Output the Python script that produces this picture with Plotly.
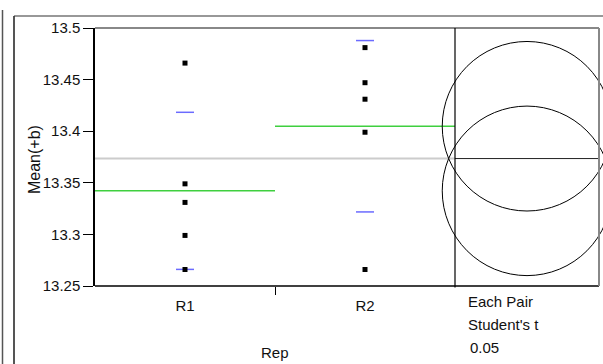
import numpy as np
import plotly.graph_objects as go

# Observations of Mean(+b) by Rep
groups = ["R1", "R2"]
r1_values = [13.466, 13.349, 13.331, 13.299, 13.266]
r2_values = [13.481, 13.447, 13.431, 13.399, 13.266]
y_ticks = [13.25, 13.3, 13.35, 13.4, 13.45, 13.5]
y_tick_text = ["13.25", "13.3", "13.35", "13.4", "13.45", "13.5"]
t_crit = 2.306          # Student's t, alpha = 0.05, df = 8
alpha_text = "0.05"

# --- figure geometry (pixels) ---
W, H = 603, 364
ML, MT, MB = 95, 28, 78
plot_w, plot_h = W - ML, H - MT - MB
px_per_x = 180.0                       # one category slot
x_max = plot_w / px_per_x
y_lo, y_hi = 13.25, 13.5
px_per_y = plot_h / (y_hi - y_lo)
panel_lo, panel_hi = 2.0, 2.8          # comparison-circle panel
centers = [0.5, 1.5]

data = [np.array(r1_values), np.array(r2_values)]
means = [d.mean() for d in data]
sds = [d.std(ddof=1) for d in data]
grand = np.concatenate(data).mean()
n = len(r1_values)
mse = sum(((d - d.mean()) ** 2).sum() for d in data) / (sum(len(d) for d in data) - len(data))
radius = t_crit * np.sqrt(mse / n)

fig = go.Figure()

# grand mean across the groups
fig.add_trace(go.Scatter(x=[0, panel_lo], y=[grand, grand], mode="lines",
                         line=dict(color="#cccccc", width=2), hoverinfo="skip"))
fig.add_trace(go.Scatter(x=[panel_lo, panel_hi], y=[grand, grand], mode="lines",
                         line=dict(color="#222222", width=1), hoverinfo="skip"))

# group means
for i, m in enumerate(means):
    fig.add_trace(go.Scatter(x=[centers[i] - 0.5, centers[i] + 0.5], y=[m, m], mode="lines",
                             line=dict(color="#3fcf3f", width=1.5), hoverinfo="skip"))

# mean +/- one standard deviation
for i, (m, s) in enumerate(zip(means, sds)):
    hx = 0.05
    fig.add_trace(go.Scatter(
        x=[centers[i] - hx, centers[i] + hx, None, centers[i] - hx, centers[i] + hx],
        y=[m + s, m + s, None, m - s, m - s], mode="lines",
        line=dict(color="#6b6bff", width=1.5), hoverinfo="skip"))

# raw observations
for i, d in enumerate(data):
    fig.add_trace(go.Scatter(x=[centers[i]] * len(d), y=d, mode="markers",
                             marker=dict(symbol="square", size=5, color="black"),
                             hoverinfo="skip"))

# comparison circles
cx = (panel_lo + panel_hi) / 2
rx = radius * px_per_y / px_per_x
for m in means:
    fig.add_shape(type="circle", xref="x", yref="y",
                  x0=cx - rx, x1=cx + rx, y0=m - radius, y1=m + radius,
                  line=dict(color="black", width=1))

# plot frame
fig.add_shape(type="line", xref="x", yref="paper", x0=0, x1=panel_hi, y0=0, y1=0,
              line=dict(color="black", width=1.5))
fig.add_shape(type="line", xref="x", yref="paper", x0=0, x1=panel_hi, y0=1, y1=1,
              line=dict(color="#888888", width=2))
fig.add_shape(type="line", xref="x", yref="paper", x0=panel_hi, x1=panel_hi, y0=0, y1=1,
              line=dict(color="#888888", width=2))
fig.add_shape(type="line", xref="x", yref="paper", x0=panel_lo, x1=panel_lo, y0=-0.006, y1=1,
              line=dict(color="black", width=1.2))

# outer report borders
def px_x(p):
    return (p - ML) / plot_w

def px_y(p):
    return (H - MB - p) / plot_h

fig.add_shape(type="line", xref="paper", yref="paper", x0=px_x(2.5), x1=px_x(2.5),
              y0=px_y(10), y1=px_y(H), line=dict(color="#555555", width=1.5))
fig.add_shape(type="line", xref="paper", yref="paper", x0=px_x(14), x1=px_x(14),
              y0=px_y(16), y1=px_y(H), line=dict(color="#555555", width=2))
fig.add_shape(type="line", xref="paper", yref="paper", x0=px_x(14), x1=px_x(W),
              y0=px_y(16), y1=px_y(16), line=dict(color="#333333", width=1.2))

font = dict(family="Liberation Sans, Arial, sans-serif", color="#111111")

# axis title and panel captions
fig.add_annotation(text="Mean(+b)", textangle=-90, xref="paper", yref="paper",
                   x=px_x(34), y=px_y(160), xanchor="center", yanchor="middle",
                   showarrow=False, font=dict(size=16, **font))
fig.add_annotation(text="Rep", xref="x", yref="paper", x=1.0, y=px_y(352),
                   xanchor="center", yanchor="middle",
                   showarrow=False, font=dict(size=15, **font))
for txt, ypx, xpx in [("Each Pair", 301, 466), ("Student's t", 324, 466), (alpha_text, 347, 468)]:
    fig.add_annotation(text=txt, xref="paper", yref="paper", x=px_x(xpx), y=px_y(ypx),
                       xanchor="left", yanchor="middle", showarrow=False,
                       font=dict(size=15, **font))

fig.update_xaxes(range=[0, x_max], tickvals=centers, ticktext=groups, ticks="",
                 showgrid=False, zeroline=False, showline=False,
                 ticklabelstandoff=9, tickfont=dict(size=15, **font),
                 minor=dict(tickvals=[1.0], ticks="outside", ticklen=8,
                            tickcolor="black", tickwidth=1))
fig.update_yaxes(range=[y_lo, y_hi], tickvals=y_ticks, ticktext=y_tick_text,
                 ticks="outside", ticklen=10, tickcolor="black", tickwidth=1,
                 showline=True, linecolor="black", linewidth=1.5,
                 showgrid=False, zeroline=False, tickfont=dict(size=15, **font))

fig.update_layout(width=W, height=H, autosize=False, showlegend=False,
                  margin=dict(l=ML, r=0, t=MT, b=MB),
                  paper_bgcolor="white", plot_bgcolor="white")

fig.write_html("out.html")
